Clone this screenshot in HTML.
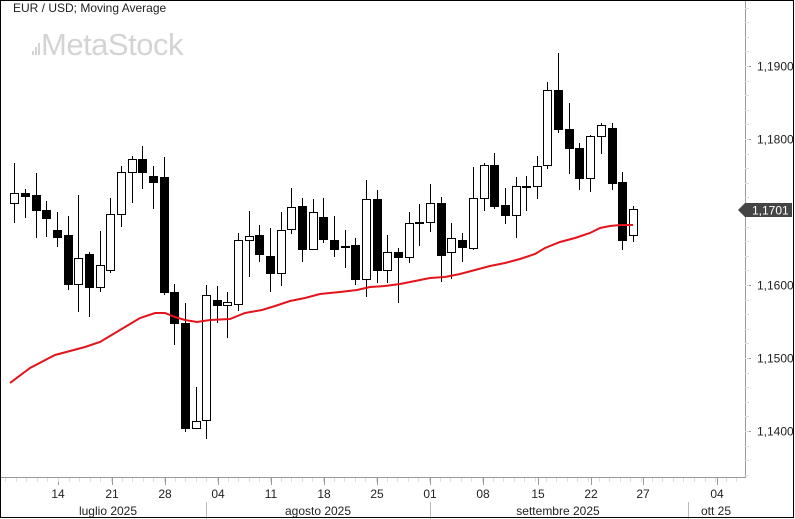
<!DOCTYPE html>
<html><head><meta charset="utf-8"><style>
body{margin:0;background:#fff;}
svg{display:block;font-family:"Liberation Sans",sans-serif;}
</style></head><body>
<svg id="s" width="795" height="519" xmlns="http://www.w3.org/2000/svg">
<rect x="0" y="0" width="795" height="519" fill="#fff"/>
<text x="13" y="12" font-size="12" fill="#222">EUR / USD; Moving Average</text>
<g fill="#d4d4d4"><rect x="32" y="51" width="2" height="4"/><rect x="35" y="47" width="2" height="8"/><rect x="38" y="43" width="2" height="12"/></g>
<text x="41" y="55" font-size="31" fill="#d4d4d4" letter-spacing="-0.5">MetaStock</text>
<g id="c"></g>
<polyline fill="none" stroke="#e3141c" stroke-width="2" points="10,383 30,368 55,355 85,347 100,342 120,330 140,318 155,313 165,313 175,317 185,320 197,322 210,320 230,319 245,313 262,310 275,306 290,301 305,298 320,294 340,292 357,290 370,287 385,286 400,284 415,281 430,278 445,277 460,274 475,270 490,266 505,263 520,259 535,254 545,248 560,242 575,238 590,233 600,228 610,226 620,225 633,225"/>
<line x1="745.5" y1="0" x2="745.5" y2="478" stroke="#999"/>
<line x1="0" y1="477.5" x2="746" y2="477.5" stroke="#999"/>
<g id="ax" font-size="12" fill="#222"></g>
<path d="M738,210 L745,203 H792 V217 H745 Z" fill="#444"/>
<text x="752" y="214.5" font-size="12" fill="#fff">1,1701</text>
<rect x="0.5" y="0.5" width="793" height="517" fill="none" stroke="#000"/>
</svg>
<script>
var d=[[14,193,203,163,223,1],[25,193,196,189,218,0],[36,195,210,173,238,0],[46,210,218,201,237,0],[57,230,237,212,247,0],[68,235,284,216,290,0],[78,258,284,195,312,1],[89,254,287,252,317,0],[100,265,287,231,292,1],[110,214,270,198,273,1],[121,172,214,166,227,1],[132,159,172,156,203,1],[142,159,172,146,189,0],[153,176,182,166,209,0],[164,177,292,157,295,0],[174,292,323,284,345,0],[185,323,428,303,432,0],[196,421,428,387,429,1],[206,295,420,285,439,1],[217,300,305,286,323,0],[227,302,305,292,338,1],[238,240,304,233,311,1],[249,236,240,211,277,1],[259,235,254,225,262,0],[270,256,273,228,292,0],[281,230,273,212,286,1],[291,207,229,188,234,1],[302,206,249,198,262,0],[313,212,249,199,250,1],[323,217,239,198,243,0],[334,240,249,216,257,0],[345,246,247,230,268,0],[355,245,279,238,285,0],[366,199,279,180,297,1],[377,199,270,190,283,0],[387,252,270,235,283,1],[398,252,257,248,303,0],[409,223,257,212,263,1],[419,222,223,204,246,0],[430,203,222,184,232,1],[441,203,255,197,282,0],[451,238,252,223,279,1],[462,240,247,233,262,0],[473,198,248,167,250,1],[484,165,198,163,211,1],[494,165,206,153,209,0],[505,205,215,188,224,0],[516,186,215,177,238,1],[526,186,187,176,211,0],[537,166,186,156,199,1],[547,90,165,82,169,1],[558,90,129,53,133,0],[569,129,148,103,174,0],[579,148,178,143,190,0],[590,136,178,135,192,1],[601,125,136,123,154,1],[612,128,183,123,190,0],[622,182,240,172,250,0],[633,209,235,206,242,1]];
var h='';d.forEach(function(c){var x=c[0];h+='<line x1="'+(x+.5)+'" y1="'+c[3]+'" x2="'+(x+.5)+'" y2="'+c[4]+'" stroke="#000"/>';
var hh=Math.max(c[2]-c[1],1);
if(c[5])h+='<rect x="'+(x-3.5)+'" y="'+(c[1]+.5)+'" width="8" height="'+hh+'" fill="#fff" stroke="#000"/>';
else h+='<rect x="'+(x-4)+'" y="'+c[1]+'" width="9" height="'+(hh+1)+'" fill="#000"/>';});
document.getElementById('c').innerHTML=h;
var a='';
[[1.19,66],[1.18,139],[1.16,285],[1.15,358],[1.14,431]].forEach(function(p){a+='<line x1="745" y1="'+(p[1]+.5)+'" x2="751" y2="'+(p[1]+.5)+'" stroke="#999"/><text x="757" y="'+(p[1]+4.5)+'">'+p[0].toFixed(4).replace('.',',')+'</text>';});
for(var y=66-73;y<478;y+=14.6){if(y>0)a+='<line x1="745" y1="'+(y.toFixed(0)+'.5')+'" x2="749" y2="'+(y.toFixed(0)+'.5')+'" stroke="#ddd"/>';}
var t=[['14',58],['21',112],['28',165],['04',218],['11',271],['18',324],['25',377],['01',430],['08',483],['15',538],['22',591],['27',643],['04',717]];
t.forEach(function(p){a+='<line x1="'+(p[1]+.5)+'" y1="478" x2="'+(p[1]+.5)+'" y2="485" stroke="#999"/><text x="'+p[1]+'" y="498" text-anchor="middle">'+p[0]+'</text>';});
for(var x=5;x<745;x+=10.6)a+='<line x1="'+(x.toFixed(0)+'.5')+'" y1="478" x2="'+(x.toFixed(0)+'.5')+'" y2="482" stroke="#ddd"/>';
[['luglio 2025',108],['agosto 2025',318],['settembre 2025',558],['ott 25',716]].forEach(function(p){a+='<text x="'+p[1]+'" y="515" text-anchor="middle">'+p[0]+'</text>';});
[206,430,688].forEach(function(x){a+='<line x1="'+(x+.5)+'" y1="502" x2="'+(x+.5)+'" y2="519" stroke="#bbb"/>';});
document.getElementById('ax').innerHTML=a;
</script>
</body></html>
